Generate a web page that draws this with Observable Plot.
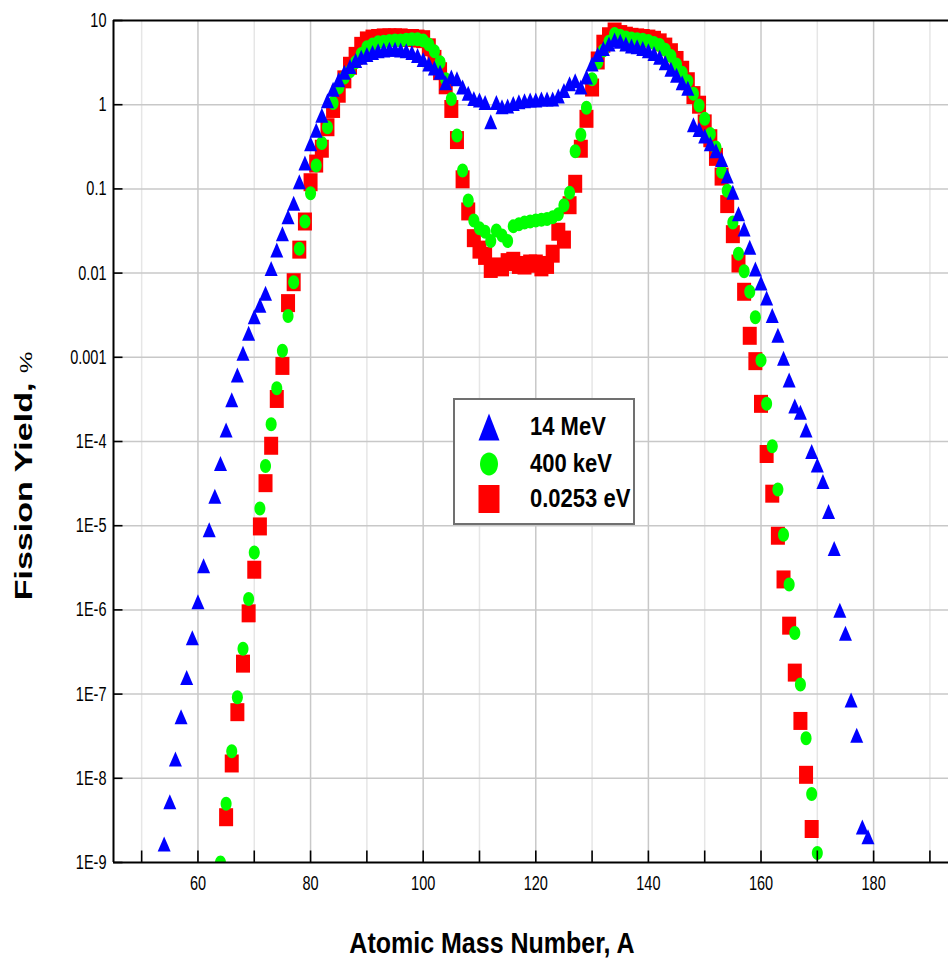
<!DOCTYPE html>
<html>
<head>
<meta charset="utf-8">
<script src="https://cdn.jsdelivr.net/npm/d3@7"></script>
<script src="https://cdn.jsdelivr.net/npm/@observablehq/plot@0.6"></script>
<style>
  html, body { margin: 0; padding: 0; background: #fff; }
  #wrap { position: relative; width: 948px; height: 962px; overflow: hidden; font-family: "Liberation Sans", Arial, sans-serif; color: #000; }
  #wrap svg { display: block; }
  .title { position: absolute; white-space: nowrap; font-weight: bold; line-height: 1; }
  #legend { position: absolute; left: 453px; top: 398px; width: 178px; height: 123px; border: 2px solid #707070; background: #fff; }
  .lg-item { position: absolute; left: 0; width: 178px; height: 36px; }
  .lg-item svg { position: absolute; left: 20px; top: 0; }
  .lg-item span { position: absolute; left: 75px; top: 50%; font: bold 22px "Liberation Sans", Arial, sans-serif; line-height: 1; transform: translateY(-50%) scaleY(1.15); white-space: nowrap; }
</style>
</head>
<body>
<div id="wrap"></div>
<script>
// ---------- data ----------
const seriesNames = ["14 MeV", "400 keV", "0.0253 eV"];
const seriesColors = ["#0000ff", "#00ff00", "#ff0000"];

const mass14MeV = [54,55,56,57,58,59,60,61,62,63,64,65,66,67,68,69,70,71,72,73,74,75,76,77,78,79,80,81,82,83,84,85,86,87,88,89,90,91,92,93,94,95,96,97,98,99,100,101,102,103,104,105,106,107,108,109,110,111,112,113,114,115,116,117,118,119,120,121,122,123,124,125,126,127,128,129,130,131,132,133,134,135,136,137,138,139,140,141,142,143,144,145,146,147,148,149,150,151,152,153,154,155,156,157,158,159,160,161,162,163,164,165,166,167,168,169,170,171,172,173,174,175,176,177,178,179];
const yield14MeV = [1.64e-9,5.2e-9,1.67e-8,5.3e-8,1.55e-7,4.6e-7,1.23e-6,3.3e-6,8.8e-6,2.2e-5,
  5.4e-5,1.35e-4,3.1e-4,6.1e-4,1.1e-3,1.9e-3,3.0e-3,4.1e-3,5.7e-3,0.0112,
  0.0185,0.029,0.046,0.0665,0.12,0.2,0.34,0.49,0.74,1.1,
  1.5,1.95,2.4,2.8,3.3,3.6,3.9,4.1,4.3,4.4,
  4.5,4.5,4.4,4.3,4.1,3.8,3.4,3.0,2.7,2.4,
  1.8,2.1,2.0,1.6,1.35,1.17,1.12,1.05,0.62,1.05,
  0.93,0.95,1.02,1.07,1.1,1.12,1.12,1.15,1.15,1.15,
  1.25,1.45,1.75,1.9,1.6,2.1,3.0,3.9,4.6,5.2,
  5.8,5.6,5.2,4.9,4.8,4.6,4.3,4.0,3.6,3.1,
  2.6,2.2,1.8,1.55,0.57,0.5,0.42,0.34,0.28,0.22,
  0.14,0.09,0.05,0.033,0.02,0.011,0.0075,0.005,0.0031,0.0018,
  9.6e-4,5.3e-4,2.6e-4,2.2e-4,1.35e-4,7.5e-5,5.2e-5,3.3e-5,1.45e-5,5.3e-6,
  9.8e-7,5.2e-7,8.4e-8,3.2e-8,2.6e-9,2.0e-9];

const mass400keV = [64,65,66,67,68,69,70,71,72,73,74,75,76,77,78,79,80,81,82,83,84,85,86,87,88,89,90,91,92,93,94,95,96,97,98,99,100,101,102,103,104,105,106,107,108,109,110,111,112,113,114,115,116,117,118,119,120,121,122,123,124,125,126,127,128,129,130,131,132,133,134,135,136,137,138,139,140,141,142,143,144,145,146,147,148,149,150,151,152,153,154,155,156,157,158,159,160,161,162,163,164,165,166,167,168,169,170];
const yield400keV = [1.0e-9,5.0e-9,2.1e-8,9.2e-8,3.45e-7,1.35e-6,4.8e-6,1.6e-5,5.1e-5,1.6e-4,
  4.3e-4,1.2e-3,3.1e-3,7.8e-3,0.0195,0.041,0.089,0.19,0.35,0.54,
  1.05,1.6,2.1,2.5,3.2,4.0,4.8,5.2,5.5,5.6,
  5.7,5.8,5.8,5.9,6.0,6.0,5.8,5.2,4.3,3.2,
  2.0,1.17,0.43,0.165,0.073,0.042,0.034,0.031,0.024,0.032,
  0.028,0.024,0.036,0.038,0.040,0.041,0.042,0.043,0.044,0.046,
  0.05,0.064,0.09,0.28,0.44,0.92,2.0,3.2,4.4,5.6,
  6.9,6.6,6.3,6.1,6.0,5.9,5.7,5.4,5.1,4.5,
  3.8,3.0,2.4,1.9,1.35,0.98,0.68,0.45,0.31,0.16,
  0.095,0.04,0.017,0.0105,0.006,3.0e-3,9.2e-4,2.8e-4,8.8e-5,2.7e-5,
  7.8e-6,2.0e-6,5.3e-7,1.3e-7,3.0e-8,6.5e-9,1.3e-9];

const massThermal = [65,66,67,68,69,70,71,72,73,74,75,76,77,78,79,80,81,82,83,84,85,86,87,88,89,90,91,92,93,94,95,96,97,98,99,100,101,102,103,104,105,106,107,108,109,110,111,112,113,114,115,116,117,118,119,120,121,122,123,124,125,126,127,128,129,130,131,132,133,134,135,136,137,138,139,140,141,142,143,144,145,146,147,148,149,150,151,152,153,154,155,156,157,158,159,160,161,162,163,164,165,166,167,168,169];
const yieldThermal = [3.45e-9,1.5e-8,6.1e-8,2.3e-7,9.1e-7,3.0e-6,9.8e-6,3.2e-5,8.9e-5,3.2e-4,
  7.9e-4,4.4e-3,7.8e-3,0.019,0.041,0.12,0.2,0.3,0.54,0.89,
  1.35,2.0,2.9,3.8,5.0,5.8,6.1,6.2,6.3,6.3,
  6.3,6.3,6.2,6.2,6.1,6.0,4.8,3.5,2.5,1.7,
  0.89,0.38,0.13,0.054,0.026,0.019,0.016,0.0112,0.012,0.0117,
  0.0135,0.014,0.0125,0.0123,0.013,0.013,0.0117,0.0125,0.017,0.031,
  0.025,0.064,0.115,0.30,0.68,1.6,3.35,5.3,6.5,7.4,
  6.9,6.6,6.4,6.3,6.2,6.1,5.9,5.5,4.9,4.2,
  3.4,2.6,1.9,1.3,1.0,0.6,0.4,0.24,0.14,0.066,
  0.029,0.013,0.006,1.8e-3,9.0e-4,2.8e-4,7.1e-5,2.4e-5,7.6e-6,2.3e-6,
  6.5e-7,1.8e-7,4.8e-8,1.1e-8,2.5e-9];

const xTickValues = [60,80,100,120,140,160,180];
const xTickMarks = [50,60,70,80,90,100,110,120,130,140,150,160,170,180,190];
const xGridMajor = [60,80,100,120,140,160,180];
const xGridMinor = [50,70,90,110,130,150,170,190];
const yTickValues = [1e-9,1e-8,1e-7,1e-6,1e-5,1e-4,1e-3,1e-2,1e-1,1,10];
const yTickLabels = ["1E-9","1E-8","1E-7","1E-6","1E-5","1E-4","0.001","0.01","0.1","1","10"];
const yGridValues = [1e-8,1e-7,1e-6,1e-5,1e-4,1e-3,1e-2,1e-1,1];
const xDomain = [45, 193.3];
const yDomain = [1e-9, 10];
const xTitle = "Atomic Mass Number, A";
const yTitle = "Fission Yield, ";
const yUnit = "%";

// ---------- tables ----------
const rows14 = mass14MeV.map((a, i) => ({A: a, Y: yield14MeV[i]}));
const rows400 = mass400keV.map((a, i) => ({A: a, Y: yield400keV[i]}));
const rowsTh = massThermal.map((a, i) => ({A: a, Y: yieldThermal[i]}));
const yLabelMap = new Map(yTickValues.map((v, i) => [v, yTickLabels[i]]));

// ---------- marker shapes (slightly taller than wide, like the source) ----------
function ellipse(c, rx, ry) {
  const k = 0.5523;
  c.moveTo(rx, 0);
  c.bezierCurveTo(rx, ry * k, rx * k, ry, 0, ry);
  c.bezierCurveTo(-rx * k, ry, -rx, ry * k, -rx, 0);
  c.bezierCurveTo(-rx, -ry * k, -rx * k, -ry, 0, -ry);
  c.bezierCurveTo(rx * k, -ry, rx, -ry * k, rx, 0);
  c.closePath();
}
const triSym = {draw(c) { c.moveTo(0, -8); c.lineTo(6.5, 7); c.lineTo(-6.5, 7); c.closePath(); }};
const ellSym = {draw(c) { ellipse(c, 5.5, 7); }};
const sqSym = {draw(c) { c.rect(-7, -9, 14, 18); }};
const tickRightSym = {draw(c) { c.moveTo(0, 0); c.lineTo(9, 0); }};
const tickUpSym = {draw(c) { c.moveTo(0, 0); c.lineTo(0, -12); }};

const chart = Plot.plot({
  width: 948,
  height: 962,
  marginLeft: 113,
  marginRight: 0,
  marginTop: 20,
  marginBottom: 100,
  style: {fontFamily: "'Liberation Sans', Arial, sans-serif", background: "#fff", color: "#000"},
  x: {domain: xDomain, axis: null},
  y: {type: "log", domain: yDomain, axis: null},
  marks: [
    Plot.ruleX(xGridMinor, {stroke: "#e6e6e6", strokeWidth: 1.5}),
    Plot.ruleX(xGridMajor, {stroke: "#c8c8c8", strokeWidth: 1.5}),
    Plot.ruleY(yGridValues, {stroke: "#c8c8c8", strokeWidth: 1.5}),
    Plot.dot(rowsTh, {x: "A", y: "Y", symbol: sqSym, fill: seriesColors[2], stroke: "none", clip: true}),
    Plot.dot(rows400, {x: "A", y: "Y", symbol: ellSym, fill: seriesColors[1], stroke: "none", clip: true}),
    Plot.dot(rows14, {x: "A", y: "Y", symbol: triSym, fill: seriesColors[0], stroke: "none", clip: true}),
    Plot.ruleY([yDomain[1]], {stroke: "#000", strokeWidth: 2}),
    Plot.ruleY([yDomain[0]], {stroke: "#000", strokeWidth: 2}),
    Plot.ruleX([xDomain[0]], {stroke: "#000", strokeWidth: 2}),
    Plot.dot(yTickValues, {y: d => d, frameAnchor: "left", symbol: tickRightSym, fill: "none", stroke: "#000", strokeWidth: 1.6}),
    Plot.dot(xTickMarks, {x: d => d, frameAnchor: "bottom", symbol: tickUpSym, fill: "none", stroke: "#000", strokeWidth: 1.6}),
    Plot.axisY(yTickValues, {tickSize: 0, tickPadding: 7, tickFormat: d => yLabelMap.get(d), fontSize: 14.5, label: null}),
    Plot.axisX(xTickValues, {tickSize: 0, tickPadding: 13, tickFormat: d => String(d), fontSize: 14.5, label: null})
  ]
});

// stretch the tick labels vertically, as in the source picture
const SY = 1.38;
chart.querySelectorAll('g[aria-label="y-axis tick label"] text, g[aria-label="x-axis tick label"] text').forEach(t => {
  const g = document.createElementNS("http://www.w3.org/2000/svg", "g");
  const tr = t.getAttribute("transform");
  if (tr) g.setAttribute("transform", tr);
  t.parentNode.insertBefore(g, t);
  g.appendChild(t);
  t.setAttribute("transform", `scale(1,${SY})`);
});

const wrap = document.getElementById("wrap");
wrap.appendChild(chart);

// axis titles
const xt = document.createElement("div");
xt.className = "title";
xt.textContent = xTitle;
Object.assign(xt.style, {left: "492px", top: "943px", fontSize: "25px", transform: "translate(-50%,-50%) scaleY(1.2)"});
wrap.appendChild(xt);

const yt = document.createElement("div");
yt.className = "title";
yt.appendChild(document.createTextNode(yTitle));
const unit = document.createElement("span");
unit.textContent = yUnit;
unit.style.fontSize = "17px";
unit.style.fontWeight = "normal";
yt.appendChild(unit);
Object.assign(yt.style, {left: "24px", top: "476px", fontSize: "24px", transform: "translate(-50%,-50%) rotate(-90deg) scale(1.42,1)"});
wrap.appendChild(yt);

// legend
const legend = document.createElement("div");
legend.id = "legend";
const lgSyms = [
  {draw(c) { c.moveTo(0, -13.5); c.lineTo(10.5, 13.5); c.lineTo(-10.5, 13.5); c.closePath(); }},
  {draw(c) { ellipse(c, 9, 11.5); }},
  {draw(c) { c.rect(-10.5, -14, 21, 28); }}
];
const rowCenters = [27, 64, 99];
seriesNames.forEach((name, i) => {
  const item = document.createElement("div");
  item.className = "lg-item";
  item.style.top = (rowCenters[i] - 18) + "px";
  const svg = d3.create("svg").attr("width", 28).attr("height", 36);
  svg.append("path")
    .attr("transform", "translate(14,18)")
    .attr("d", d3.symbol(lgSyms[i])())
    .attr("fill", seriesColors[i]);
  item.appendChild(svg.node());
  const s = document.createElement("span");
  s.textContent = name;
  item.appendChild(s);
  legend.appendChild(item);
});
wrap.appendChild(legend);
</script>
</body>
</html>
